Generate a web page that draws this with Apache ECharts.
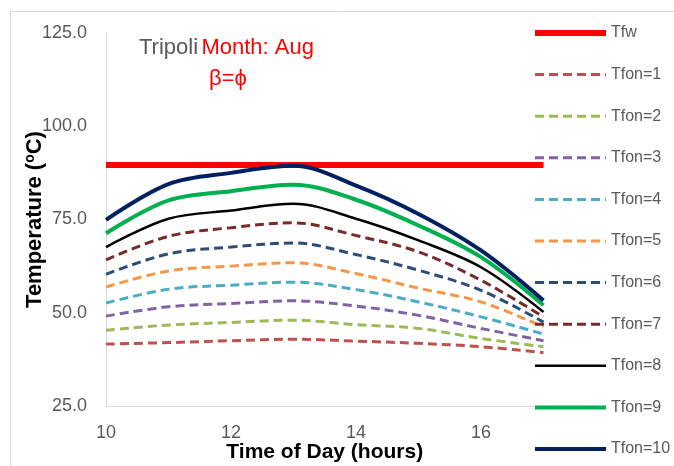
<!DOCTYPE html>
<html>
<head>
<meta charset="utf-8">
<script src="https://cdn.jsdelivr.net/npm/echarts@6/dist/echarts.min.js"></script>
<style>html,body{margin:0;padding:0;background:#fff;}#c{width:674px;height:466px;}</style>
</head>
<body>
<div id="c"></div>
<script>
var hours = [10, 11, 12, 13, 14, 15, 16, 17];
var tfwHours = [10, 17];
var tfwValue = 89.6;
var tfon1 = [41.6, 42.0, 42.5, 42.9, 42.4, 41.8, 40.9, 39.3];
var tfon2 = [45.3, 46.7, 47.4, 48.0, 46.8, 45.8, 43.1, 40.9];
var tfon3 = [49.1, 51.6, 52.5, 53.2, 51.8, 49.3, 45.8, 42.5];
var tfon4 = [52.6, 56.3, 57.4, 58.2, 56.2, 52.9, 48.9, 44.3];
var tfon5 = [56.9, 61.2, 62.5, 63.4, 60.5, 56.6, 52.9, 46.2];
var tfon6 = [60.3, 65.8, 67.6, 68.7, 65.6, 61.4, 56.0, 47.5];
var tfon7 = [64.2, 70.5, 72.8, 74.1, 70.7, 66.3, 58.7, 48.9];
var tfon8 = [67.6, 75.2, 77.4, 79.2, 75.2, 69.4, 62.2, 50.2];
var tfon9 = [71.3, 80.1, 82.6, 84.3, 80.3, 73.4, 64.9, 52.0];
var tfon10 = [74.9, 84.5, 87.5, 89.4, 84.1, 76.5, 66.7, 53.3];
var seriesNames = ['Tfw', 'Tfon=1', 'Tfon=2', 'Tfon=3', 'Tfon=4', 'Tfon=5', 'Tfon=6', 'Tfon=7', 'Tfon=8', 'Tfon=9', 'Tfon=10'];
var yTicks = [25, 50, 75, 100, 125];
var xTicks = [10, 12, 14, 16];

var FONT = 'Liberation Sans, Arial, sans-serif';
var tfonValues = [tfon1, tfon2, tfon3, tfon4, tfon5, tfon6, tfon7, tfon8, tfon9, tfon10];
var styles = [
  {color: '#FF0000', width: 6, type: 'solid'},
  {color: '#C0504D', width: 3, type: [9, 5]},
  {color: '#9BBB59', width: 3, type: [9, 5]},
  {color: '#8064A2', width: 3, type: [9, 5]},
  {color: '#4BACC6', width: 3, type: [9, 5]},
  {color: '#F79646', width: 3, type: [9, 5]},
  {color: '#2C4D75', width: 3, type: [9, 5]},
  {color: '#772C2A', width: 3, type: [9, 5]},
  {color: '#000000', width: 2.5, type: 'solid'},
  {color: '#00B050', width: 4, type: 'solid'},
  {color: '#002060', width: 4, type: 'solid'}
];

function pairs(xs, ys) { return xs.map(function (x, i) { return [x, ys[i]]; }); }

var series = [];
series.push({
  name: seriesNames[0], type: 'line', symbol: 'none',
  data: pairs(tfwHours, [tfwValue, tfwValue]),
  lineStyle: {color: styles[0].color, width: styles[0].width, type: styles[0].type},
  itemStyle: {color: styles[0].color}
});
tfonValues.forEach(function (vals, i) {
  var s = styles[i + 1];
  series.push({
    name: seriesNames[i + 1], type: 'line', symbol: 'none', smooth: 0.35,
    data: pairs(hours, vals),
    lineStyle: {color: s.color, width: s.width, type: s.type, cap: 'butt'},
    itemStyle: {color: s.color}
  });
});

var legendData = seriesNames.map(function (n, i) {
  return {name: n, lineStyle: {width: styles[i].width, type: styles[i].type, color: styles[i].color}};
});

var chart = echarts.init(document.getElementById('c'), null, {renderer: 'canvas'});
chart.setOption({
  animation: false,
  backgroundColor: '#ffffff',
  textStyle: {fontFamily: FONT},
  grid: {left: 106, right: 130.5, top: 33, bottom: 60, containLabel: false, outerBoundsMode: 'none'},
  xAxis: {
    type: 'value', min: xTicks[0], max: 17, interval: 2,
    name: 'Time of Day (hours)', nameLocation: 'middle', nameGap: 36, nameMoveOverlap: false,
    nameTextStyle: {fontFamily: FONT, fontSize: 21, fontWeight: 'bold', color: '#000'},
    axisLine: {show: true, lineStyle: {color: '#D9D9D9', width: 1}},
    axisTick: {show: false},
    splitLine: {show: false},
    axisLabel: {fontFamily: FONT, fontSize: 18, color: '#595959', margin: 18, showMaxLabel: false}
  },
  yAxis: {
    type: 'value', min: yTicks[0], max: yTicks[yTicks.length - 1], interval: 25,
    name: '{a|Temperature (}{b|o}{a|C)}', nameLocation: 'middle', nameGap: 59, nameRotate: 90,
    nameMoveOverlap: false,
    nameTextStyle: {
      rich: {
        a: {fontFamily: FONT, fontSize: 22, fontWeight: 'bold', color: '#000', lineHeight: 24},
        b: {fontFamily: FONT, fontSize: 14, fontWeight: 'bold', color: '#000', verticalAlign: 'top', lineHeight: 24}
      }
    },
    axisLine: {show: true, lineStyle: {color: '#D9D9D9', width: 1}},
    axisTick: {show: false},
    splitLine: {show: false},
    axisLabel: {fontFamily: FONT, fontSize: 18, color: '#595959', margin: 19,
      formatter: function (v) { return v.toFixed(1); }}
  },
  legend: {
    orient: 'vertical', left: 532, top: 25, padding: 0, height: 440,
    itemWidth: 71, itemHeight: 16, itemGap: 25.6,
    textStyle: {fontFamily: FONT, fontSize: 16, color: '#595959', lineHeight: 16},
    itemStyle: {opacity: 0},
    data: legendData
  },
  graphic: [
    {type: 'rect', shape: {x: 10.5, y: 11.5, width: 700, height: 500},
     style: {fill: 'none', stroke: '#D9D9D9', lineWidth: 1}, silent: true, z: -1},
    {type: 'text', x: 139, y: 48,
     style: {text: '{g|Tripoli} {r|Month: Aug}', verticalAlign: 'middle',
       rich: {g: {fontFamily: FONT, fontSize: 22, fill: '#595959'},
              r: {fontFamily: FONT, fontSize: 22, fill: '#FF0000'}}}},
    {type: 'text', x: 209, y: 79,
     style: {text: 'β=ϕ', fontFamily: FONT, fontSize: 22, fill: '#FF0000', verticalAlign: 'middle'}}
  ],
  series: series
});
</script>
</body>
</html>
